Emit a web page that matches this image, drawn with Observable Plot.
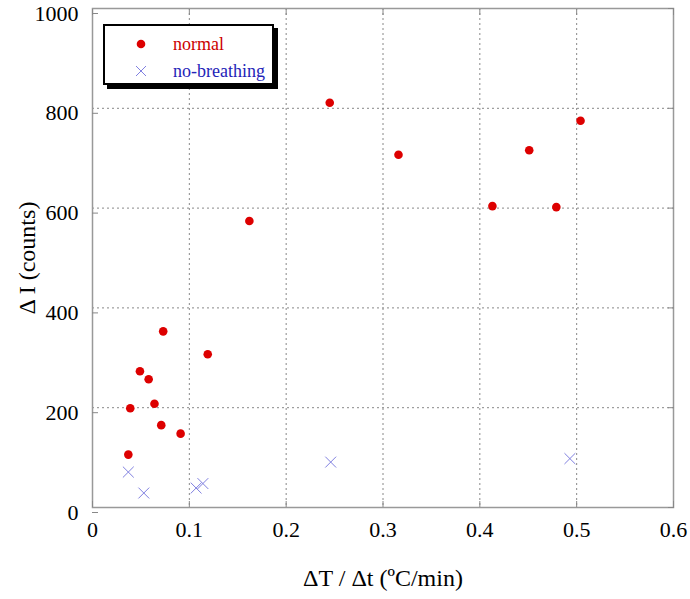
<!DOCTYPE html>
<html>
<head>
<meta charset="utf-8">
<script src="https://cdn.jsdelivr.net/npm/d3@7"></script>
<script src="https://cdn.jsdelivr.net/npm/@observablehq/plot@0.6"></script>
<style>
  html, body { margin: 0; padding: 0; background: #fff; }
  #wrap { position: relative; width: 690px; height: 599px; font-family: "Liberation Serif", "Times New Roman", serif; }
  #wrap svg { font-family: "Liberation Serif", "Times New Roman", serif; }
  [aria-label="x-axis label"] text, [aria-label="y-axis label"] text { font-size: 24px; fill: #000; }
  #legend { position: absolute; left: 103px; top: 24px; width: 167px; height: 57px; border: 2px solid #000; box-shadow: 4px 4px 0 #000; background: #fff; font-size: 18px; }
  #legend .row { position: absolute; left: 0; height: 20px; line-height: 20px; white-space: nowrap; }
  #legend .row span { position: absolute; left: 68px; top: 0; }
  #legend .row svg { position: absolute; left: 27px; top: 2px; }
</style>
</head>
<body>
<div id="wrap"></div>
<script>
// normal
const normalX = [0.037, 0.039, 0.049, 0.058, 0.064, 0.071, 0.073, 0.091, 0.119, 0.162, 0.245, 0.316, 0.413, 0.451, 0.479, 0.504];
const normalY = [106, 199, 273, 257, 208, 165, 353, 148, 307, 574, 811, 707, 604, 716, 602, 775];
// no-breathing
const noBreathX = [0.037, 0.053, 0.107, 0.114, 0.246, 0.493];
const noBreathY = [71, 29, 39, 48, 91, 98];
// ticks
const xTicks = [0, 0.1, 0.2, 0.3, 0.4, 0.5, 0.6];
const yTicks = [0, 200, 400, 600, 800, 1000];
const seriesNames = ["normal", "no-breathing"];
const xTitle = "ΔT / Δt (ºC/min)";
const yTitle = "Δ I (counts)";
const redColor = "#dd0000", blueColor = "#8080e0";

const normal = normalX.map((x, i) => ({x, y: normalY[i]}));
const noBreath = noBreathX.map((x, i) => ({x, y: noBreathY[i]}));

const gridStyle = {stroke: "#888", strokeOpacity: 1, strokeDasharray: "2,3"};
const plot = Plot.plot({
  width: 690,
  height: 599,
  marginLeft: 92,
  marginRight: 17,
  marginTop: 8,
  marginBottom: 92,
  x: {domain: [0, 0.6], ticks: xTicks, label: xTitle, labelArrow: false},
  y: {domain: [0, 1000], ticks: yTicks, label: yTitle, labelArrow: false},
  style: {fontSize: "22px", fontFamily: "Liberation Serif, serif", color: "#000"},
  marks: [
    Plot.gridX(xTicks, gridStyle),
    Plot.gridY(yTicks, gridStyle),
    Plot.frame({stroke: "#999", strokeWidth: 1.5}),
    Plot.axisX(xTicks, {anchor: "bottom", tickSize: -6, tickPadding: 20, stroke: "#888", fill: "#000", fontSize: 22, label: xTitle, labelArrow: false, labelAnchor: "center", labelOffset: 78, tickFormat: d => String(d)}),
    Plot.axisX(xTicks, {anchor: "top", tickSize: -6, stroke: "#888", fill: "none", label: null}),
    Plot.axisY(yTicks, {anchor: "left", tickSize: -6, tickPadding: 20, stroke: "#888", fill: "#000", fontSize: 22, dy: 5, label: yTitle, labelArrow: false, labelAnchor: "center", labelOffset: 75, tickFormat: d => String(d)}),
    Plot.axisY(yTicks, {anchor: "right", tickSize: -6, stroke: "#888", fill: "none", label: null}),
    Plot.dot(normal, {x: "x", y: "y", r: 4.3, fill: redColor, stroke: null}),
    Plot.dot(noBreath, {x: "x", y: "y", r: 5, symbol: "times", stroke: blueColor, strokeWidth: 1})
  ]
});
const wrap = document.getElementById("wrap");
wrap.appendChild(plot);

const legend = document.createElement("div");
legend.id = "legend";
legend.innerHTML = `
  <div class="row" style="top:8px"><svg width="20" height="16"><circle cx="9" cy="8" r="4.3" fill="${redColor}"/></svg><span style="color:#cc0000">${seriesNames[0]}</span></div>
  <div class="row" style="top:35px"><svg width="20" height="16"><path d="M4,3L14,13M14,3L4,13" stroke="${blueColor}" stroke-width="1"/></svg><span style="color:#2424b8">${seriesNames[1]}</span></div>`;
wrap.appendChild(legend);
</script>
</body>
</html>
